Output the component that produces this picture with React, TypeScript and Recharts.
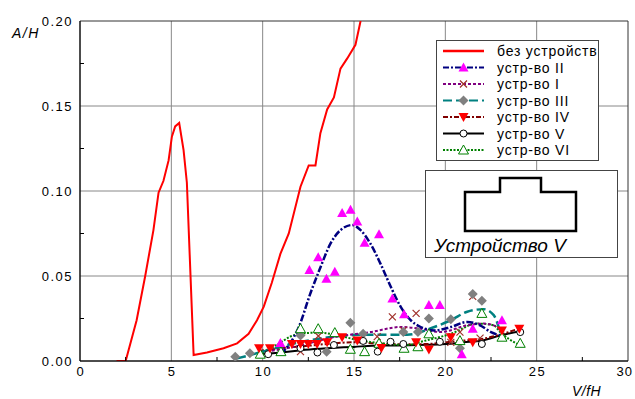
import React from "react";
import {
  CartesianGrid,
  ComposedChart,
  Line,
  ReferenceArea,
  Scatter,
  XAxis,
  YAxis,
} from "recharts";

// curve without device (measured, straight segments)
const noDevice = [
  [2.0, 0], [2.5, 0], [3.1, 0.024], [3.57, 0.05], [4.02, 0.077], [4.3, 0.099],
  [4.57, 0.106], [4.85, 0.118], [5.03, 0.132], [5.21, 0.138], [5.43, 0.14],
  [5.67, 0.124], [5.85, 0.105], [6.22, 0.0035], [6.95, 0.005], [7.86, 0.0075],
  [8.6, 0.0104], [9.23, 0.016], [9.69, 0.024], [10.06, 0.032], [10.5, 0.046],
  [10.97, 0.063], [11.43, 0.075], [12.07, 0.1025], [12.52, 0.115], [12.89, 0.115],
  [13.16, 0.134], [13.53, 0.148], [13.9, 0.155], [14.26, 0.172], [14.63, 0.178],
  [15.08, 0.186], [15.36, 0.2],
];

// device II
const fit2 = [
  [11.0, 0.004], [11.98, 0.02], [12.62, 0.04], [13.16, 0.055], [13.71, 0.069],
  [14.26, 0.077], [14.9, 0.08], [15.36, 0.077], [15.9, 0.069], [16.46, 0.057],
  [17.0, 0.044], [17.55, 0.032], [18.1, 0.024], [18.65, 0.02], [19.4, 0.018],
  [20.3, 0.02], [21.2, 0.023], [21.9, 0.021], [22.5, 0.017], [23.0, 0.015],
];
const pts2 = [
  [10.97, 0.0106], [12.56, 0.0535], [13.04, 0.061], [13.49, 0.0484], [13.95, 0.0525],
  [14.35, 0.087], [14.81, 0.089], [15.18, 0.082], [15.58, 0.0696], [16.37, 0.0745],
  [17.1, 0.0368], [17.74, 0.0275], [19.1, 0.033], [19.7, 0.033], [20.9, 0.004],
  [21.5, 0.019], [23.1, 0.024],
];

// device I
const fit1 = [
  [10.5, 0.006], [12, 0.009], [13.9, 0.014], [15.9, 0.017], [17.55, 0.02],
  [18.65, 0.019], [19.75, 0.017], [21.2, 0.021], [22.1, 0.022], [22.85, 0.02],
  [23.2, 0.017],
];
const pts1 = [
  [12.07, 0.0055], [13.05, 0.0147], [16.27, 0.0143], [17.1, 0.026], [17.7, 0.018],
  [18.4, 0.028], [20.3, 0.011], [20.8, 0.017], [21.5, 0.038], [21.9, 0.0135],
];

// device III
const fit3 = [
  [8.6, 0.0015], [10.0, 0.0055], [11, 0.0085], [12, 0.011], [13, 0.013], [14, 0.0145],
  [15, 0.0153], [16, 0.0155], [17.9, 0.0155], [19.4, 0.02], [20.3, 0.024],
  [21.2, 0.029], [22.1, 0.0305], [22.65, 0.027], [23.0, 0.017],
];
const pts3 = [
  [8.5, 0.0025], [9.3, 0.0045], [12.07, 0.015], [13.5, 0.0055], [14.8, 0.0225],
  [15.5, 0.016], [17.7, 0.017], [18.5, 0.017], [19.1, 0.025], [20.3, 0.0245],
  [20.8, 0.0075], [21.5, 0.0394], [22.0, 0.0355],
];

// device IV
const fit4 = [
  [9.8, 0.006], [11, 0.0075], [12, 0.0085], [13, 0.0095], [14, 0.0105], [15, 0.011],
  [16, 0.0105], [17, 0.01], [18, 0.0098], [19, 0.01], [20, 0.011], [21, 0.012],
  [22, 0.013], [23, 0.0155], [24, 0.019],
];
const pts4 = [
  [9.8, 0.0075], [10.4, 0.0075], [11.6, 0.01], [12.07, 0.01], [12.5, 0.01],
  [12.98, 0.01], [13.53, 0.011], [14.35, 0.014], [15.18, 0.012], [16.5, 0.0076],
  [18.4, 0.011], [19.1, 0.0068], [20.3, 0.014], [21.5, 0.011], [23.1, 0.018],
  [24.05, 0.019],
];

// device V
const fit5 = [
  [10, 0.004], [11, 0.005], [12, 0.0062], [13, 0.0072], [14, 0.0078], [15, 0.0083],
  [16, 0.009], [17, 0.0091], [18, 0.0092], [19, 0.0095], [20, 0.01], [21, 0.011],
  [22, 0.012], [23, 0.015], [24.1, 0.0175],
];
const pts5 = [
  [10.3, 0.004], [12.07, 0.0076], [13.0, 0.005], [13.9, 0.0094], [15.5, 0.0118],
  [16.3, 0.0055], [17.0, 0.0113], [17.7, 0.01], [19.7, 0.0113], [22.0, 0.01],
  [24.1, 0.017],
];

// device VI
const fit6 = [
  [10, 0.005], [11, 0.011], [11.5, 0.0143], [12.07, 0.016], [13, 0.0167],
  [13.9, 0.0157], [15, 0.0128], [16.46, 0.0104], [17.9, 0.0094], [18.65, 0.0113],
  [20.3, 0.016], [21.75, 0.022], [22.65, 0.021], [23.0, 0.017], [23.95, 0.01],
];
const pts6 = [
  [9.87, 0.004], [11.0, 0.0055], [12.07, 0.019], [13.04, 0.019], [13.95, 0.0167],
  [14.8, 0.0069], [15.58, 0.0055], [16.37, 0.0104], [17.74, 0.0075], [18.5, 0.0084],
  [19.1, 0.016], [20.8, 0.012], [22.0, 0.028], [23.1, 0.014], [24.1, 0.0104],
];

const legendLabels = [
  "без устройств",
  "устр-во II",
  "устр-во I",
  "устр-во III",
  "устр-во IV",
  "устр-во V",
  "устр-во VI",
];

const xTicks = [0, 2.5, 5, 7.5, 10, 12.5, 15, 17.5, 20, 22.5, 25, 27.5, 30];
const yTicks = [0, 0.025, 0.05, 0.075, 0.1, 0.125, 0.15, 0.175, 0.2];

const toXY = (rows: number[][]) => rows.map(([x, y]) => ({ x, y }));

const FONT = "'Liberation Sans', Arial, sans-serif";

function TriUp({ cx, cy, fill, stroke }: any) {
  return (
    <path
      d={`M${cx},${cy - 5} L${cx + 5},${cy + 4} L${cx - 5},${cy + 4} Z`}
      fill={fill}
      stroke={stroke}
      strokeWidth={1}
    />
  );
}

function TriDown({ cx, cy, fill }: any) {
  return <path d={`M${cx - 5},${cy - 4} L${cx + 5},${cy - 4} L${cx},${cy + 5} Z`} fill={fill} />;
}

function Diamond({ cx, cy, fill }: any) {
  return <path d={`M${cx},${cy - 5} L${cx + 5},${cy} L${cx},${cy + 5} L${cx - 5},${cy} Z`} fill={fill} />;
}

function Cross({ cx, cy, stroke }: any) {
  return (
    <path
      d={`M${cx - 3.5},${cy - 3.5} L${cx + 3.5},${cy + 3.5} M${cx - 3.5},${cy + 3.5} L${cx + 3.5},${cy - 3.5}`}
      stroke={stroke}
      strokeWidth={1.2}
      fill="none"
    />
  );
}

function Ring({ cx, cy }: any) {
  return <circle cx={cx} cy={cy} r={3.5} fill="#fff" stroke="#000" strokeWidth={1} />;
}

const triUpMagenta = (p: any) => <TriUp cx={p.cx} cy={p.cy} fill="#ff00ff" />;
const triUpGreen = (p: any) => <TriUp cx={p.cx} cy={p.cy} fill="#fff" stroke="#008000" />;
const triDownRed = (p: any) => <TriDown cx={p.cx} cy={p.cy} fill="#ff0000" />;
const diamondGray = (p: any) => <Diamond cx={p.cx} cy={p.cy} fill="#808080" />;
const crossBrown = (p: any) => <Cross cx={p.cx} cy={p.cy} stroke="#a0302a" />;
const ringBlack = (p: any) => <Ring cx={p.cx} cy={p.cy} />;

function XTick({ x, y, payload }: any) {
  const v = payload.value;
  const major = v % 5 === 0;
  const last = v === 30;
  return (
    <g>
      {!major && <line x1={x} x2={x} y1={y} y2={y - 4} stroke="#000" />}
      {major && (
        <text
          x={last ? 633 : x + 0.75}
          y={y + 15}
          textAnchor={last ? "end" : "middle"}
          fontSize={13}
          letterSpacing={last ? 1 : 1.5}
          fontFamily={FONT}
          fill="#000"
        >
          {v}
        </text>
      )}
    </g>
  );
}

function YTick({ x, y, payload }: any) {
  const v = payload.value;
  const major = Math.round(v * 1000) % 50 === 0;
  return (
    <g>
      {!major && <line x1={x} x2={x + 4} y1={y} y2={y} stroke="#000" />}
      {major && (
        <text
          x={x - 7}
          y={y + 5}
          textAnchor="end"
          fontSize={13}
          letterSpacing={1.5}
          fontFamily={FONT}
          fill="#000"
        >
          {v.toFixed(2)}
        </text>
      )}
    </g>
  );
}

const legendStyles = [
  { stroke: "#ff0000", dash: undefined, width: 2.5, marker: null },
  { stroke: "#000080", dash: "6 2 2 2", width: 2, marker: triUpMagenta },
  { stroke: "#800080", dash: "3 2", width: 2, marker: crossBrown },
  { stroke: "#008080", dash: "9 4", width: 2, marker: diamondGray },
  { stroke: "#800000", dash: "5 2 2 2", width: 2, marker: triDownRed },
  { stroke: "#000000", dash: undefined, width: 2, marker: ringBlack },
  { stroke: "#008000", dash: "2 1.5", width: 2, marker: triUpGreen },
];

function LegendBox() {
  return (
    <svg
      width={163}
      height={121}
      style={{ position: "absolute", left: 436, top: 40, background: "#fff" }}
    >
      <rect x={0.5} y={0.5} width={162} height={120} fill="#fff" stroke="#444" />
      {legendLabels.map((label, i) => {
        const cy = 11 + i * 16.5;
        const s = legendStyles[i];
        return (
          <g key={label}>
            <line x1={7} x2={48} y1={cy} y2={cy} stroke={s.stroke} strokeWidth={s.width} strokeDasharray={s.dash} />
            {s.marker && s.marker({ cx: 27.5, cy })}
            <text x={61} y={cy + 5} fontSize={14} letterSpacing={0.8} fontFamily={FONT} fill="#000">
              {label}
            </text>
          </g>
        );
      })}
    </svg>
  );
}

function InsetBox() {
  return (
    <svg width={193} height={88} style={{ position: "absolute", left: 425, top: 170, background: "#fff" }}>
      <rect x={0.5} y={0.5} width={192} height={87} fill="#fff" stroke="#444" />
      <path d="M40,22 L75,22 L75,8 L116,8 L116,22 L151,22 L151,61 L40,61 Z" fill="none" stroke="#000" strokeWidth={2.5} />
      <text x={9} y={82} fontSize={19} fontStyle="italic" fontFamily={FONT} fill="#000">
        Устройство V
      </text>
    </svg>
  );
}

export default function App() {
  return (
    <div
      style={{
        position: "absolute",
        left: 0,
        top: 0,
        width: 635,
        height: 399,
        background: "#fff",
        fontFamily: FONT,
      }}
    >
      <ComposedChart width={635} height={399} margin={{ top: 21, right: 7, left: 0, bottom: 0 }}>
        <CartesianGrid
          horizontalValues={[0.05, 0.1, 0.15]}
          verticalValues={[5, 10, 15, 20, 25]}
          stroke="#888"
          strokeWidth={1}
        />
        <XAxis
          dataKey="x"
          type="number"
          domain={[0, 30]}
          ticks={xTicks}
          interval={0}
          height={38}
          tickSize={0}
          tickMargin={0}
          tick={<XTick />}
          axisLine={{ stroke: "#000" }}
          tickLine={false}
        />
        <YAxis
          dataKey="y"
          type="number"
          domain={[0, 0.2]}
          ticks={yTicks}
          interval={0}
          width={80}
          tickSize={0}
          tickMargin={0}
          tick={<YTick />}
          axisLine={{ stroke: "#000" }}
          tickLine={false}
          allowDataOverflow
        />
        <ReferenceArea x1={0} x2={30} y1={0} y2={0.2} fill="none" stroke="#333" />
        <Scatter data={toXY(pts1)} shape={crossBrown} isAnimationActive={false} />
        <Scatter data={toXY(pts3)} shape={diamondGray} isAnimationActive={false} />
        <Scatter data={toXY(pts6)} shape={triUpGreen} isAnimationActive={false} />
        <Scatter data={toXY(pts5)} shape={ringBlack} isAnimationActive={false} />
        <Scatter data={toXY(pts4)} shape={triDownRed} isAnimationActive={false} />
        <Scatter data={toXY(pts2)} shape={triUpMagenta} isAnimationActive={false} />
        <Line data={toXY(fit5)} dataKey="y" type="monotone" stroke="#000" strokeWidth={2} dot={false} isAnimationActive={false} />
        <Line data={toXY(fit4)} dataKey="y" type="monotone" stroke="#800000" strokeWidth={2} strokeDasharray="5 2 2 2" dot={false} isAnimationActive={false} />
        <Line data={toXY(fit6)} dataKey="y" type="monotone" stroke="#008000" strokeWidth={2} strokeDasharray="2 1.5" dot={false} isAnimationActive={false} />
        <Line data={toXY(fit3)} dataKey="y" type="monotone" stroke="#008080" strokeWidth={2.5} strokeDasharray="9 4" dot={false} isAnimationActive={false} />
        <Line data={toXY(fit1)} dataKey="y" type="monotone" stroke="#800080" strokeWidth={2} strokeDasharray="3 2" dot={false} isAnimationActive={false} />
        <Line data={toXY(fit2)} dataKey="y" type="monotone" stroke="#000080" strokeWidth={2.5} strokeDasharray="7 2 2 2" dot={false} isAnimationActive={false} />
        <Line data={toXY(noDevice)} dataKey="y" type="linear" stroke="#ff0000" strokeWidth={2} dot={false} isAnimationActive={false} />
      </ComposedChart>
      <div style={{ position: "absolute", left: 12, top: 25, fontSize: 14, letterSpacing: 1.5, fontStyle: "italic" }}>A/H</div>
      <div style={{ position: "absolute", left: 572, top: 383, fontSize: 14, letterSpacing: 0.5, fontStyle: "italic" }}>V/fH</div>
      <LegendBox />
      <InsetBox />
    </div>
  );
}
